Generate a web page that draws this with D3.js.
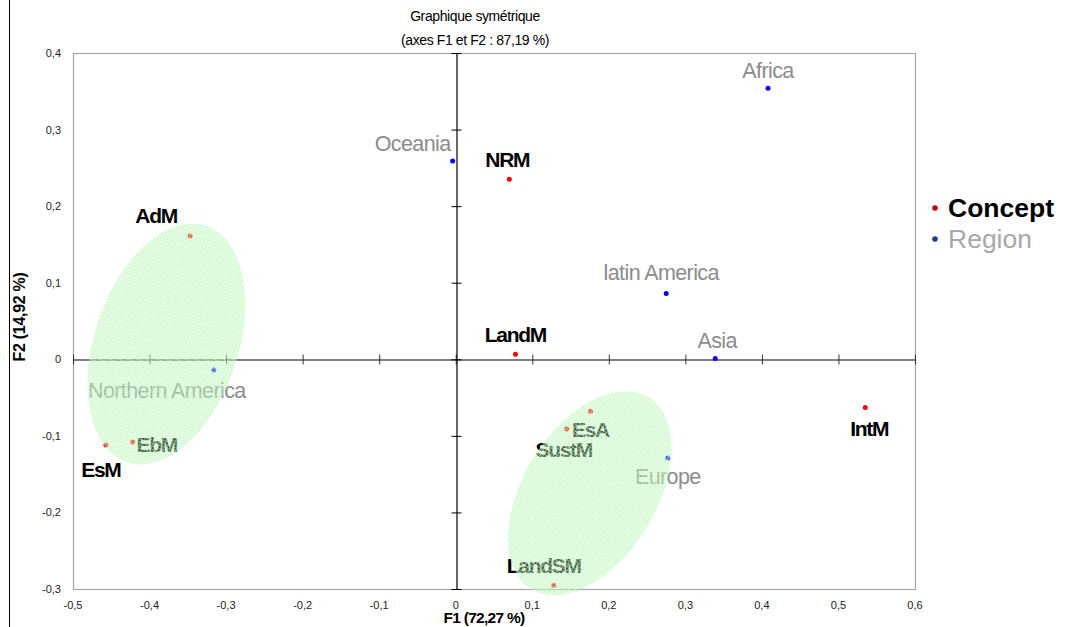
<!DOCTYPE html>
<html>
<head>
<meta charset="utf-8">
<script src="https://cdn.jsdelivr.net/npm/d3@7"></script>
<style>
  body { margin: 0; background: #fff; }
  text { font-family: "Liberation Sans", Arial, sans-serif; }
</style>
</head>
<body>
<div class="chart"></div>
<script>
// data
let conceptNames = ["AdM", "NRM", "LandM", "IntM", "EsM", "EbM", "EsA", "SustM", "LandSM"];
let conceptF1 = [-0.347, 0.070, 0.078, 0.535, -0.457, -0.422, 0.176, 0.145, 0.128];
let conceptF2 = [0.161, 0.235, 0.0065, -0.063, -0.112, -0.108, -0.068, -0.091, -0.295];

let regionNames = ["Africa", "latin America", "Asia", "Oceania", "Northern America", "Europe"];
let regionF1 = [0.408, 0.275, 0.339, -0.004, -0.316, 0.277];
let regionF2 = [0.354, 0.086, 0.001, 0.259, -0.014, -0.129];

// confidence ellipses: centre, semi axes (data units), tilt in degrees
let ellipseCx = [-0.378, 0.175];
let ellipseCy = [0.020, -0.175];
let ellipseA = [0.163, 0.147];
let ellipseB = [0.094, 0.087];
let ellipseAngle = [71.6, 58.5];

let xTicks = [-0.5, -0.4, -0.3, -0.2, -0.1, 0, 0.1, 0.2, 0.3, 0.4, 0.5, 0.6];
let yTicks = [-0.3, -0.2, -0.1, 0, 0.1, 0.2, 0.3, 0.4];

// label placement (pixels from the point)
let conceptLabelDx = [-34, -2, 0, 4, -5, 24, 0, -3, -10];
let conceptLabelDy = [-21, -20, -20, 21, 24, 3, 18, 21, -20];
let regionLabelDx = [0, -5, 2, -40, -47, 0];
let regionLabelDy = [-18, -21, -18, -17, 20, 18];

let svgWidth = 1074;
let svgHeight = 627;
let margin = { top: 53, right: 159, bottom: 38, left: 73 };
let width = svgWidth - margin.left - margin.right;
let height = svgHeight - margin.top - margin.bottom;

let fmt = v => (v === 0 ? "0" : d3.format(".1f")(v).replace(".", ",").replace("−", "-"));

let svg = d3.select(".chart").append("svg")
  .attr("width", svgWidth)
  .attr("height", svgHeight);

// page border on the left
svg.append("line")
  .attr("x1", 9.5).attr("x2", 9.5).attr("y1", 0).attr("y2", svgHeight)
  .attr("stroke", "#000").attr("stroke-width", 1);

// hatch pattern for ellipses
let defs = svg.append("defs");
let pat = defs.append("pattern")
  .attr("id", "grid")
  .attr("width", 3).attr("height", 3)
  .attr("patternUnits", "userSpaceOnUse");
pat.append("rect").attr("width", 3).attr("height", 3).attr("fill", "rgba(200,252,200,0.32)");
pat.append("path").attr("d", "M0,0.5H3M0.5,0V3")
  .attr("stroke", "rgba(190,246,190,0.5)").attr("stroke-width", 1);

let chartGroup = svg.append("g")
  .attr("transform", `translate(${margin.left}, ${margin.top})`);

let x = d3.scaleLinear().domain([-0.5, 0.6]).range([0, width]);
let y = d3.scaleLinear().domain([-0.3, 0.4]).range([height, 0]);

// frame
chartGroup.append("rect")
  .attr("x", 0.5).attr("y", 0.5)
  .attr("width", width).attr("height", height)
  .attr("fill", "none").attr("stroke", "#a6a6a6").attr("stroke-width", 1.2);

// tick labels
chartGroup.append("g").selectAll("text")
  .data(xTicks).enter().append("text")
  .attr("x", d => x(d))
  .attr("y", height + 20)
  .attr("text-anchor", "middle")
  .attr("font-size", 11)
  .attr("fill", "#222")
  .text(fmt);

chartGroup.append("g").selectAll("text")
  .data(yTicks).enter().append("text")
  .attr("x", -12)
  .attr("y", d => y(d) + 4)
  .attr("text-anchor", "end")
  .attr("font-size", 11)
  .attr("fill", "#222")
  .text(fmt);

// zero axes with ticks
let x0 = Math.round(x(0)) + 0.5;
let y0 = Math.round(y(0)) + 0.5;

let hAxis = d3.axisBottom(x).tickValues(xTicks).tickSizeInner(0).tickSizeOuter(0).tickFormat("");
let hg = chartGroup.append("g").attr("transform", `translate(0, ${y0})`).call(hAxis);
hg.select(".domain").attr("stroke", "#555").attr("stroke-width", 1.3);
hg.selectAll(".tick line").attr("y1", -5).attr("y2", 5).attr("stroke", "#333");

let vAxis = d3.axisLeft(y).tickValues(yTicks).tickSizeInner(0).tickSizeOuter(0).tickFormat("");
let vg = chartGroup.append("g").attr("transform", `translate(${x0}, 0)`).call(vAxis);
vg.select(".domain").attr("stroke", "#000").attr("stroke-width", 1.2);
vg.selectAll(".tick line").attr("x1", -5).attr("x2", 5).attr("stroke", "#000");

// region points and labels
let regions = regionNames.map((n, i) => ({ name: n, f1: regionF1[i], f2: regionF2[i], dx: regionLabelDx[i], dy: regionLabelDy[i] }));
let concepts = conceptNames.map((n, i) => ({ name: n, f1: conceptF1[i], f2: conceptF2[i], dx: conceptLabelDx[i], dy: conceptLabelDy[i] }));

chartGroup.selectAll(".rlab")
  .data(regions).enter().append("text")
  .attr("class", "rlab")
  .attr("x", d => x(d.f1) + d.dx)
  .attr("y", d => y(d.f2) + d.dy + 7.5)
  .attr("text-anchor", "middle")
  .attr("font-size", 21.5)
  .attr("letter-spacing", "-0.6px")
  .attr("fill", "#8c8c8c")
  .text(d => d.name);

chartGroup.selectAll(".clab")
  .data(concepts).enter().append("text")
  .attr("class", "clab")
  .attr("x", d => x(d.f1) + d.dx)
  .attr("y", d => y(d.f2) + d.dy + 7.5)
  .attr("text-anchor", "middle")
  .attr("font-size", 21)
  .attr("font-weight", "bold")
  .attr("letter-spacing", "-1.3px")
  .attr("fill", "#000")
  .text(d => d.name);

chartGroup.selectAll(".rdot")
  .data(regions).enter().append("circle")
  .attr("cx", d => x(d.f1))
  .attr("cy", d => y(d.f2))
  .attr("r", 2.5)
  .attr("fill", "#0000ff");

chartGroup.selectAll(".cdot")
  .data(concepts).enter().append("circle")
  .attr("cx", d => x(d.f1))
  .attr("cy", d => y(d.f2))
  .attr("r", 2.5)
  .attr("fill", "#ff0000");

// ellipses go on top, translucent
let pxPerUnit = x(1) - x(0);
ellipseCx.forEach((cx, i) => {
  chartGroup.append("ellipse")
    .attr("transform", `translate(${x(cx)}, ${y(ellipseCy[i])}) rotate(${-ellipseAngle[i]})`)
    .attr("rx", ellipseA[i] * pxPerUnit)
    .attr("ry", ellipseB[i] * pxPerUnit)
    .attr("fill", "url(#grid)");
});

// title
svg.append("text")
  .attr("x", 475).attr("y", 21)
  .attr("text-anchor", "middle").attr("font-size", 14)
  .attr("letter-spacing", "-0.4px")
  .text("Graphique symétrique");
svg.append("text")
  .attr("x", 475).attr("y", 45)
  .attr("text-anchor", "middle").attr("font-size", 14)
  .attr("letter-spacing", "-0.4px")
  .text("(axes F1 et F2 : 87,19 %)");

// axis titles
svg.append("text")
  .attr("x", 484).attr("y", 623)
  .attr("text-anchor", "middle").attr("font-size", 15.5)
  .attr("font-weight", "bold").attr("letter-spacing", "-0.7px")
  .text("F1 (72,27 %)");
svg.append("text")
  .attr("transform", "translate(25, 317) rotate(-90)")
  .attr("text-anchor", "middle").attr("font-size", 16)
  .attr("font-weight", "bold").attr("letter-spacing", "-0.3px")
  .text("F2 (14,92 %)");

// legend
let legendNames = ["Concept", "Region"];
let legendDot = ["#cc0000", "#1f3a8a"];
let legendText = ["#000", "#a8a8a8"];
let lg = svg.append("g").attr("transform", "translate(935, 208)");
legendNames.forEach((n, i) => {
  lg.append("circle").attr("cx", 0).attr("cy", i * 31).attr("r", 2.8).attr("fill", legendDot[i]);
  lg.append("text")
    .attr("x", 13).attr("y", i * 31 + 9)
    .attr("font-size", 26.5)
    .attr("font-weight", i === 0 ? "bold" : "normal")
    .attr("fill", legendText[i])
    .text(n);
});
</script>
</body>
</html>
